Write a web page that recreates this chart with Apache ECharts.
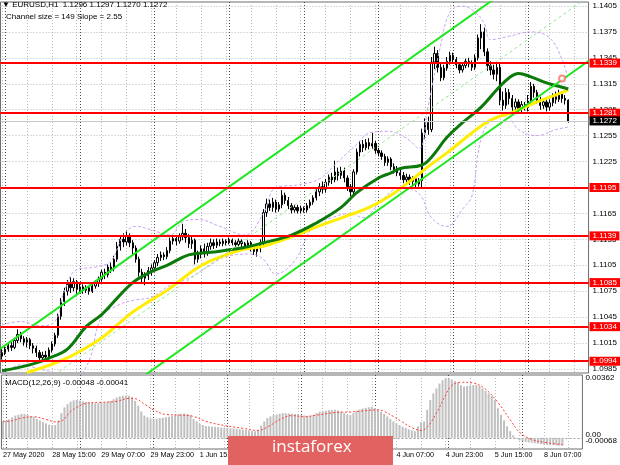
<!DOCTYPE html>
<html>
<head>
<meta charset="utf-8">
<script src="https://cdn.jsdelivr.net/npm/echarts@6.0.0/dist/echarts.min.js"></script>
<style>
html,body{margin:0;padding:0;background:#fff;}
#chart{width:620px;height:465px;}
</style>
</head>
<body>
<div id="chart"></div>
<script>
// ---------- DATA ----------
const tradingDays = [['27 May',23,23],['28 May',0,23],['29 May',0,23],['1 Jun',0,23],['2 Jun',0,23],['3 Jun',0,23],['4 Jun',0,23],['5 Jun',0,23],['8 Jun',0,13]];
const xLabelIdx = [0,16,32,48,64,80,96,112,128,144,160,176];
const xTickLabels = ['27 May 2020','28 May 15:00','29 May 07:00','29 May 23:00','1 Jun 15:00','2 Jun 07:00','2 Jun 23:00','3 Jun 15:00','4 Jun 07:00','4 Jun 23:00','5 Jun 15:00','8 Jun 07:00'];
const daySeparators = [1,25,49,73,97,121,145,169];
const priceTicks = [1.1405,1.1375,1.1345,1.1315,1.1285,1.1255,1.1225,1.1195,1.1165,1.1135,1.1105,1.1075,1.1045,1.1015,1.0985];
const levels = [1.1339,1.1281,1.1195,1.1139,1.1085,1.1034,1.0994];

const opens = [
1.1000,1.1004,1.1008,1.1012,1.1010,1.1018,1.1025,1.1020,1.1016,1.1019,
1.1012,1.1009,1.1004,1.0998,1.1001,1.0999,1.1007,1.1014,1.1024,1.1046,
1.1063,1.1075,1.1083,1.1079,1.1086,1.1077,1.1080,1.1076,1.1079,1.1075,
1.1081,1.1085,1.1089,1.1097,1.1094,1.1103,1.1101,1.1112,1.1127,1.1135,
1.1132,1.1139,1.1131,1.1125,1.1112,1.1097,1.1090,1.1093,1.1099,1.1102,
1.1108,1.1114,1.1117,1.1115,1.1122,1.1133,1.1136,1.1133,1.1138,1.1142,
1.1137,1.1130,1.1134,1.1112,1.1118,1.1124,1.1120,1.1127,1.1131,1.1128,
1.1132,1.1130,1.1133,1.1131,1.1134,1.1131,1.1129,1.1133,1.1130,1.1127,
1.1131,1.1126,1.1121,1.1125,1.1131,1.1166,1.1176,1.1172,1.1178,1.1170,
1.1175,1.1186,1.1180,1.1174,1.1169,1.1172,1.1168,1.1171,1.1169,1.1174,
1.1178,1.1183,1.1190,1.1196,1.1193,1.1201,1.1207,1.1204,1.1213,1.1209,
1.1214,1.1206,1.1196,1.1190,1.1213,1.1236,1.1245,1.1241,1.1247,1.1243,
1.1246,1.1238,1.1235,1.1231,1.1224,1.1228,1.1219,1.1216,1.1212,1.1209,
1.1204,1.1207,1.1202,1.1205,1.1199,1.1203,1.1258,1.1270,1.1262,1.1340,
1.1350,1.1334,1.1322,1.1333,1.1341,1.1348,1.1343,1.1337,1.1331,1.1336,
1.1341,1.1338,1.1334,1.1345,1.1368,1.1375,1.1352,1.1336,1.1331,1.1326,
1.1334,1.1296,1.1290,1.1305,1.1298,1.1288,1.1294,1.1286,1.1291,1.1288,
1.1295,1.1312,1.1305,1.1296,1.1290,1.1294,1.1288,1.1293,1.1300,1.1297,
1.1303,1.1298,1.1296];
const closes = [
1.1004,1.1008,1.1012,1.1010,1.1018,1.1025,1.1020,1.1016,1.1019,1.1012,
1.1009,1.1004,1.0998,1.1001,1.0999,1.1007,1.1014,1.1024,1.1046,1.1063,
1.1075,1.1083,1.1079,1.1086,1.1077,1.1080,1.1076,1.1079,1.1075,1.1081,
1.1085,1.1089,1.1097,1.1094,1.1103,1.1101,1.1112,1.1127,1.1135,1.1132,
1.1139,1.1131,1.1125,1.1112,1.1097,1.1090,1.1093,1.1099,1.1102,1.1108,
1.1114,1.1117,1.1115,1.1122,1.1133,1.1136,1.1133,1.1138,1.1142,1.1137,
1.1130,1.1134,1.1112,1.1118,1.1124,1.1120,1.1127,1.1131,1.1128,1.1132,
1.1130,1.1133,1.1131,1.1134,1.1131,1.1129,1.1133,1.1130,1.1127,1.1131,
1.1126,1.1121,1.1125,1.1131,1.1166,1.1176,1.1172,1.1178,1.1170,1.1175,
1.1186,1.1180,1.1174,1.1169,1.1172,1.1168,1.1171,1.1169,1.1174,1.1178,
1.1183,1.1190,1.1196,1.1193,1.1201,1.1207,1.1204,1.1213,1.1209,1.1214,
1.1206,1.1196,1.1190,1.1213,1.1236,1.1245,1.1241,1.1247,1.1243,1.1246,
1.1238,1.1235,1.1231,1.1224,1.1228,1.1219,1.1216,1.1212,1.1209,1.1204,
1.1207,1.1202,1.1205,1.1199,1.1203,1.1258,1.1270,1.1262,1.1340,1.1350,
1.1334,1.1322,1.1333,1.1341,1.1348,1.1343,1.1337,1.1331,1.1336,1.1341,
1.1338,1.1334,1.1345,1.1368,1.1375,1.1352,1.1336,1.1331,1.1326,1.1334,
1.1296,1.1290,1.1305,1.1298,1.1288,1.1294,1.1286,1.1291,1.1288,1.1295,
1.1312,1.1305,1.1296,1.1290,1.1294,1.1288,1.1293,1.1300,1.1297,1.1303,
1.1298,1.1296,1.1272];
const lows = [
1.0996,1.1001,1.1005,1.1006,1.1008,1.1015,1.1016,1.1012,1.1010,1.1008,
1.1003,1.0999,1.0993,1.0994,1.0995,1.0996,1.1004,1.1011,1.1021,1.1042,
1.1058,1.1070,1.1073,1.1075,1.1072,1.1074,1.1072,1.1073,1.1071,1.1073,
1.1078,1.1080,1.1086,1.1089,1.1091,1.1096,1.1098,1.1109,1.1122,1.1126,
1.1128,1.1126,1.1118,1.1108,1.1092,1.1084,1.1082,1.1088,1.1093,1.1098,
1.1104,1.1110,1.1111,1.1112,1.1119,1.1129,1.1128,1.1130,1.1134,1.1131,
1.1125,1.1124,1.1106,1.1108,1.1113,1.1114,1.1116,1.1123,1.1124,1.1125,
1.1127,1.1127,1.1128,1.1129,1.1128,1.1126,1.1127,1.1126,1.1123,1.1124,
1.1121,1.1117,1.1115,1.1120,1.1128,1.1161,1.1168,1.1167,1.1166,1.1167,
1.1171,1.1176,1.1170,1.1165,1.1166,1.1165,1.1165,1.1166,1.1166,1.1171,
1.1175,1.1180,1.1185,1.1188,1.1189,1.1197,1.1199,1.1201,1.1203,1.1205,
1.1201,1.1191,1.1185,1.1187,1.1210,1.1231,1.1236,1.1238,1.1239,1.1240,
1.1234,1.1231,1.1227,1.1220,1.1220,1.1215,1.1211,1.1208,1.1204,1.1200,
1.1200,1.1198,1.1197,1.1195,1.1196,1.1194,1.1251,1.1256,1.1259,1.1332,
1.1328,1.1318,1.1319,1.1330,1.1337,1.1339,1.1333,1.1327,1.1328,1.1333,
1.1334,1.1330,1.1331,1.1342,1.1355,1.1347,1.1330,1.1325,1.1320,1.1318,
1.1290,1.1284,1.1286,1.1291,1.1282,1.1283,1.1281,1.1281,1.1284,1.1283,
1.1292,1.1299,1.1292,1.1285,1.1286,1.1283,1.1284,1.1289,1.1292,1.1294,
1.1293,1.1291,1.1270];
const highs = [
1.1008,1.1011,1.1015,1.1016,1.1021,1.1031,1.1028,1.1023,1.1022,1.1021,
1.1015,1.1012,1.1007,1.1005,1.1006,1.1010,1.1017,1.1027,1.1049,1.1067,
1.1079,1.1088,1.1091,1.1090,1.1088,1.1084,1.1083,1.1082,1.1081,1.1084,
1.1088,1.1092,1.1100,1.1101,1.1106,1.1108,1.1116,1.1132,1.1140,1.1142,
1.1145,1.1142,1.1134,1.1128,1.1115,1.1101,1.1097,1.1103,1.1106,1.1111,
1.1118,1.1121,1.1120,1.1126,1.1137,1.1140,1.1139,1.1142,1.1153,1.1147,
1.1141,1.1138,1.1136,1.1122,1.1128,1.1130,1.1131,1.1136,1.1135,1.1136,
1.1135,1.1136,1.1135,1.1137,1.1136,1.1134,1.1136,1.1135,1.1132,1.1134,
1.1133,1.1129,1.1130,1.1135,1.1170,1.1182,1.1181,1.1183,1.1181,1.1178,
1.1192,1.1189,1.1184,1.1177,1.1175,1.1175,1.1174,1.1173,1.1177,1.1181,
1.1186,1.1194,1.1200,1.1202,1.1205,1.1210,1.1212,1.1226,1.1218,1.1219,
1.1218,1.1209,1.1199,1.1216,1.1240,1.1249,1.1250,1.1251,1.1252,1.1258,
1.1249,1.1241,1.1238,1.1234,1.1231,1.1230,1.1223,1.1220,1.1216,1.1213,
1.1211,1.1210,1.1208,1.1209,1.1206,1.1263,1.1275,1.1277,1.1346,1.1358,
1.1354,1.1338,1.1337,1.1346,1.1352,1.1351,1.1346,1.1340,1.1339,1.1344,
1.1345,1.1342,1.1349,1.1372,1.1384,1.1380,1.1356,1.1341,1.1337,1.1339,
1.1340,1.1306,1.1310,1.1309,1.1302,1.1298,1.1297,1.1295,1.1294,1.1302,
1.1317,1.1315,1.1308,1.1300,1.1298,1.1297,1.1297,1.1304,1.1306,1.1308,
1.1306,1.1302,1.1297];

// moving averages / bands read at sampled bars: [barIndex, price]
const maGreen = [[0,1.0983],[10,1.0991],[16,1.0999],[21,1.1008],[27,1.1034],[32,1.1048],[37,1.1067],[42,1.1085],[47,1.1096],[53,1.1105],[60,1.1117],[67,1.1120],[77,1.1125],[84,1.1131],[93,1.1140],[101,1.1154],[109,1.1172],[114,1.1189],[121,1.1206],[125,1.1212],[128,1.1217],[135,1.1221],[138,1.1230],[143,1.1253],[148,1.1270],[154,1.1288],[159,1.1308],[163,1.1322],[166,1.1327],[170,1.1323],[175,1.1316],[180,1.1311],[182,1.1309]];
const maYellow = [[8,1.0981],[21,1.0998],[32,1.1021],[37,1.1036],[42,1.1051],[48,1.1065],[53,1.1076],[62,1.1100],[67,1.1110],[77,1.1123],[84,1.1127],[93,1.1138],[103,1.1152],[110,1.1161],[118,1.1172],[125,1.1186],[131,1.1202],[138,1.1222],[143,1.1235],[151,1.1258],[157,1.1273],[164,1.1282],[172,1.1294],[180,1.1305],[182,1.1308]];
const bandUpper = [[0,1.1036],[6,1.1040],[12,1.1035],[17,1.1040],[20,1.1075],[24,1.1100],[30,1.1103],[35,1.1110],[39,1.1140],[43,1.1150],[48,1.1146],[54,1.1140],[58,1.1155],[63,1.1158],[70,1.1150],[78,1.1140],[84,1.1165],[88,1.1195],[95,1.1198],[102,1.1205],[108,1.1225],[114,1.1245],[118,1.1258],[124,1.1260],[130,1.1252],[134,1.1240],[137,1.1290],[141,1.1360],[144,1.1398],[148,1.1405],[152,1.1398],[155,1.1385],[157,1.1366],[163,1.1370],[170,1.1375],[176,1.1368],[180,1.1343],[182,1.1320]];
const bandLower = [[0,1.0975],[6,1.0990],[12,1.0985],[17,1.0980],[20,1.0972],[24,1.0975],[28,1.0995],[32,1.1045],[38,1.1060],[43,1.1065],[48,1.1068],[54,1.1082],[60,1.1090],[66,1.1103],[72,1.1115],[80,1.1118],[84,1.1112],[88,1.1095],[94,1.1110],[100,1.1150],[106,1.1160],[112,1.1165],[116,1.1160],[122,1.1180],[128,1.1195],[134,1.1188],[138,1.1160],[143,1.1150],[148,1.1170],[151,1.1185],[153,1.1235],[155,1.1262],[158,1.1275],[162,1.1278],[166,1.1262],[172,1.1255],[178,1.1262],[182,1.1265]];
// equidistant channel (size 149 pips, slope 2.55 pips/bar) end points
const channelUpper = [[-0.5,1.10085],[188.5,1.14904]];
const channelMid   = [[-0.5,1.09340],[188.5,1.14159]];
const channelLower = [[-0.5,1.08595],[188.5,1.13414]];
const fractalUp = [[180,1.1321]];

const macd = [
0.00100,0.00106,0.00112,0.00125,0.00135,0.00140,0.00145,0.00145,0.00140,0.00130,
0.00127,0.00115,0.00105,0.00095,0.00088,0.00080,0.00076,0.00078,0.00105,0.00150,
0.00185,0.00205,0.00220,0.00228,0.00230,0.00226,0.00222,0.00218,0.00215,0.00212,
0.00210,0.00210,0.00212,0.00215,0.00218,0.00225,0.00235,0.00245,0.00252,0.00256,
0.00258,0.00255,0.00248,0.00225,0.00195,0.00160,0.00135,0.00125,0.00118,0.00115,
0.00116,0.00120,0.00122,0.00125,0.00128,0.00132,0.00138,0.00142,0.00146,0.00148,
0.00145,0.00138,0.00115,0.00100,0.00085,0.00078,0.00072,0.00070,0.00068,0.00066,
0.00064,0.00063,0.00062,0.00060,0.00058,0.00056,0.00054,0.00052,0.00050,0.00048,
0.00046,0.00042,0.00040,0.00045,0.00075,0.00100,0.00120,0.00130,0.00138,0.00142,
0.00146,0.00150,0.00150,0.00148,0.00146,0.00145,0.00143,0.00140,0.00136,0.00134,
0.00135,0.00140,0.00150,0.00158,0.00162,0.00165,0.00168,0.00170,0.00170,0.00166,
0.00160,0.00150,0.00140,0.00138,0.00150,0.00165,0.00172,0.00178,0.00182,0.00186,
0.00188,0.00182,0.00170,0.00158,0.00145,0.00130,0.00115,0.00100,0.00088,0.00078,
0.00068,0.00060,0.00052,0.00045,0.00040,0.00070,0.00095,0.00100,0.00170,0.00230,
0.00270,0.00300,0.00330,0.00350,0.00360,0.00362,0.00355,0.00345,0.00335,0.00320,
0.00312,0.00315,0.00318,0.00320,0.00322,0.00315,0.00300,0.00285,0.00270,0.00255,
0.00230,0.00180,0.00140,0.00105,0.00070,0.00040,0.00015,-0.00005,-0.00015,-0.00020,
-0.00025,-0.00028,-0.00030,-0.00033,-0.00036,-0.00038,-0.00040,-0.00042,-0.00044,-0.00045,
-0.00046,-0.00047,-0.00048];
const macdSignal = [[0,0.00098],[3,0.00104],[6,0.00120],[10,0.00128],[14,0.00112],[17,0.00097],[19,0.00102],[22,0.00160],[24,0.00185],[27,0.00210],[32,0.00216],[37,0.00222],[41,0.00240],[43,0.00238],[46,0.00205],[49,0.00170],[53,0.00142],[58,0.00138],[62,0.00130],[66,0.00100],[72,0.00075],[78,0.00058],[83,0.00045],[86,0.00065],[90,0.00110],[94,0.00135],[98,0.00128],[102,0.00138],[109,0.00155],[113,0.00157],[118,0.00165],[122,0.00170],[124,0.00160],[127,0.00130],[130,0.00095],[133,0.00062],[136,0.00045],[138,0.00065],[141,0.00150],[144,0.00260],[146,0.00318],[149,0.00338],[153,0.00333],[157,0.00295],[161,0.00215],[165,0.00110],[168,0.00035],[172,-0.00010],[177,-0.00030],[182,-0.00041]];

// ---------- BUILD ----------
const categories = [];
tradingDays.forEach(([d,h0,h1]) => { for (let h = h0; h <= h1; h++) categories.push(d + ' ' + String(h).padStart(2,'0') + ':00'); });
const shiftBars = 6;
const axisCats = categories.concat(['p1','p2','p3','p4','p5','p6'].slice(0, shiftBars));
const N = axisCats.length;
const every8 = []; for (let i = 0; i < N; i += 8) every8.push(i);
const candleData = closes.map((c, i) => [opens[i], c, lows[i], highs[i]]);
const last = closes.length - 1;

const FONT = 'Liberation Sans, Arial, sans-serif';
const lightGrid = {show:true, lineStyle:{color:'#b8b8b8', type:[1,2], width:1}};
const darkGrid = {show:true, lineStyle:{color:'#4a4a4a', type:[1,2], width:1}};
function vAxis(grid, ticks, split, pos, label) {
  return {type:'value', gridIndex:grid, min:-0.5, max:N-0.5, position:pos,
    axisLine:{show:false}, axisTick:{show:false, customValues:ticks},
    axisLabel: label || {show:false}, splitLine: split};
}
function line(data, color, width, type, extra) {
  return Object.assign({type:'line', xAxisIndex:1, yAxisIndex:0, data, symbol:'none', silent:true,
    lineStyle:{color, width, type}, z:3}, extra || {});
}

const chart = echarts.init(document.getElementById('chart'));
chart.setOption({
  animation:false,
  backgroundColor:'#fff',
  grid:[
    {left:0.5, top:2, width:588.5, height:371, show:true, borderColor:'#6e6e6e', borderWidth:1, backgroundColor:'transparent'},
    {left:0.5, top:375, width:588.5, height:74, show:true, borderColor:'#6e6e6e', borderWidth:1, backgroundColor:'transparent'}
  ],
  xAxis:[
    {type:'category', gridIndex:0, data:axisCats, boundaryGap:true, show:false},
    vAxis(0, every8, lightGrid, 'top'),
    vAxis(0, daySeparators, darkGrid, 'top'),
    {type:'category', gridIndex:1, data:axisCats, boundaryGap:true, show:false},
    vAxis(1, every8, lightGrid, 'bottom', {show:true, customValues:xLabelIdx,
      formatter: v => xTickLabels[xLabelIdx.indexOf(Math.round(v))] || '',
      align:'left', margin:3, fontSize:7.2, fontFamily:FONT, color:'#000'}),
    vAxis(1, daySeparators, darkGrid, 'top')
  ],
  yAxis:[
    {type:'value', gridIndex:0, position:'right', min:1.09804, max:1.14096,
      axisLine:{show:false}, axisTick:{show:false, customValues:priceTicks},
      axisLabel:{customValues:priceTicks, formatter:v => v.toFixed(4), fontSize:8, fontFamily:FONT, color:'#000', margin:4},
      splitLine:lightGrid},
    {type:'value', gridIndex:1, position:'right', min:-0.00068, max:0.00382,
      axisLine:{show:false}, axisTick:{show:false, customValues:[0]},
      axisLabel:{customValues:[0.00362, 0], formatter:v => (Math.abs(v) < 1e-9 ? '0.00\n-0.00068' : v.toFixed(5)),
        fontSize:8, lineHeight:6, fontFamily:FONT, color:'#000', margin:3},
      splitLine:{show:true, lineStyle:{color:'#a0a0a0', type:[2,2], width:1}}}
  ],
  series:[
    {type:'candlestick', name:'EURUSD', xAxisIndex:0, yAxisIndex:0, data:candleData, barWidth:1.8, silent:true,
      itemStyle:{color:'#ffffff', color0:'#000000', borderColor:'#000000', borderColor0:'#000000', borderWidth:1},
      markLine:{silent:true, symbol:'none', animation:false, precision:4,
        label:{show:true, position:'end', distance:1, formatter:p => Number(p.value).toFixed(4), color:'#fff',
          fontSize:8, fontFamily:FONT, padding:[1,3,0,3], lineHeight:8},
        data: levels.map(v => ({yAxis:v, lineStyle:{color:'#ff0000', width:2, type:'solid'}, label:{backgroundColor:'#ff0000'}}))
          .concat([{yAxis:closes[last], lineStyle:{color:'#c8c8c8', width:1, type:'solid'}, label:{backgroundColor:'#000000'}}])
      }},
    line(bandUpper, '#c9a3f2', 1, [3,2], {smooth:0.4}),
    line(bandLower, '#c9a3f2', 1, [3,2], {smooth:0.4}),
    line(maYellow, '#ffee00', 3, 'solid', {smooth:0.4}),
    line(maGreen, '#0b7a0b', 3, 'solid', {smooth:0.4}),
    line(channelMid, '#8fe88f', 1, [3,3]),
    line(channelUpper, '#1ee81e', 2, 'solid'),
    line(channelLower, '#1ee81e', 2, 'solid'),
    {type:'scatter', xAxisIndex:1, yAxisIndex:0, data:fractalUp, symbol:'emptyCircle', symbolSize:6, silent:true,
      itemStyle:{color:'#ff6a6a', borderColor:'#ff6a6a', borderWidth:1}, z:4},
    {type:'bar', name:'MACD', xAxisIndex:3, yAxisIndex:1, data:macd, barWidth:2, silent:true, itemStyle:{color:'#c0c0c0'}},
    {type:'line', name:'Signal', xAxisIndex:4, yAxisIndex:1, data:macdSignal, symbol:'none', silent:true, smooth:0.4,
      lineStyle:{color:'#ff3b3b', width:1, type:[2,2]}, z:3}
  ],
  graphic:[
    {type:'text', x:2, y:1, z:50, style:{text:'\u25BC EURUSD,H1  ' + [opens[last], highs[last], lows[last], closes[last]].map(v => v.toFixed(4)).join(' '),
      fontSize:8, fontFamily:FONT, fill:'#000', verticalAlign:'top'}},
    {type:'text', x:6, y:13, z:50, style:{text:'Channel size = 149 Slope = 2.55', fontSize:8, fontFamily:FONT, fill:'#000', verticalAlign:'top'}},
    {type:'text', x:5, y:379, z:50, style:{text:'MACD(12,26,9) ' + macd[last].toFixed(5) + ' ' + macdSignal[macdSignal.length-1][1].toFixed(5),
      fontSize:8, fontFamily:FONT, fill:'#000', verticalAlign:'top'}},
    {type:'rect', z:60, shape:{x:228, y:436, width:165, height:29}, style:{fill:'#e26262'}},
    {type:'text', x:272, y:439, z:61, style:{text:'instaforex', fontSize:17, fontFamily:'Open Sans, sans-serif', fill:'#ffffff', verticalAlign:'top'}}
  ]
});
</script>
</body>
</html>
